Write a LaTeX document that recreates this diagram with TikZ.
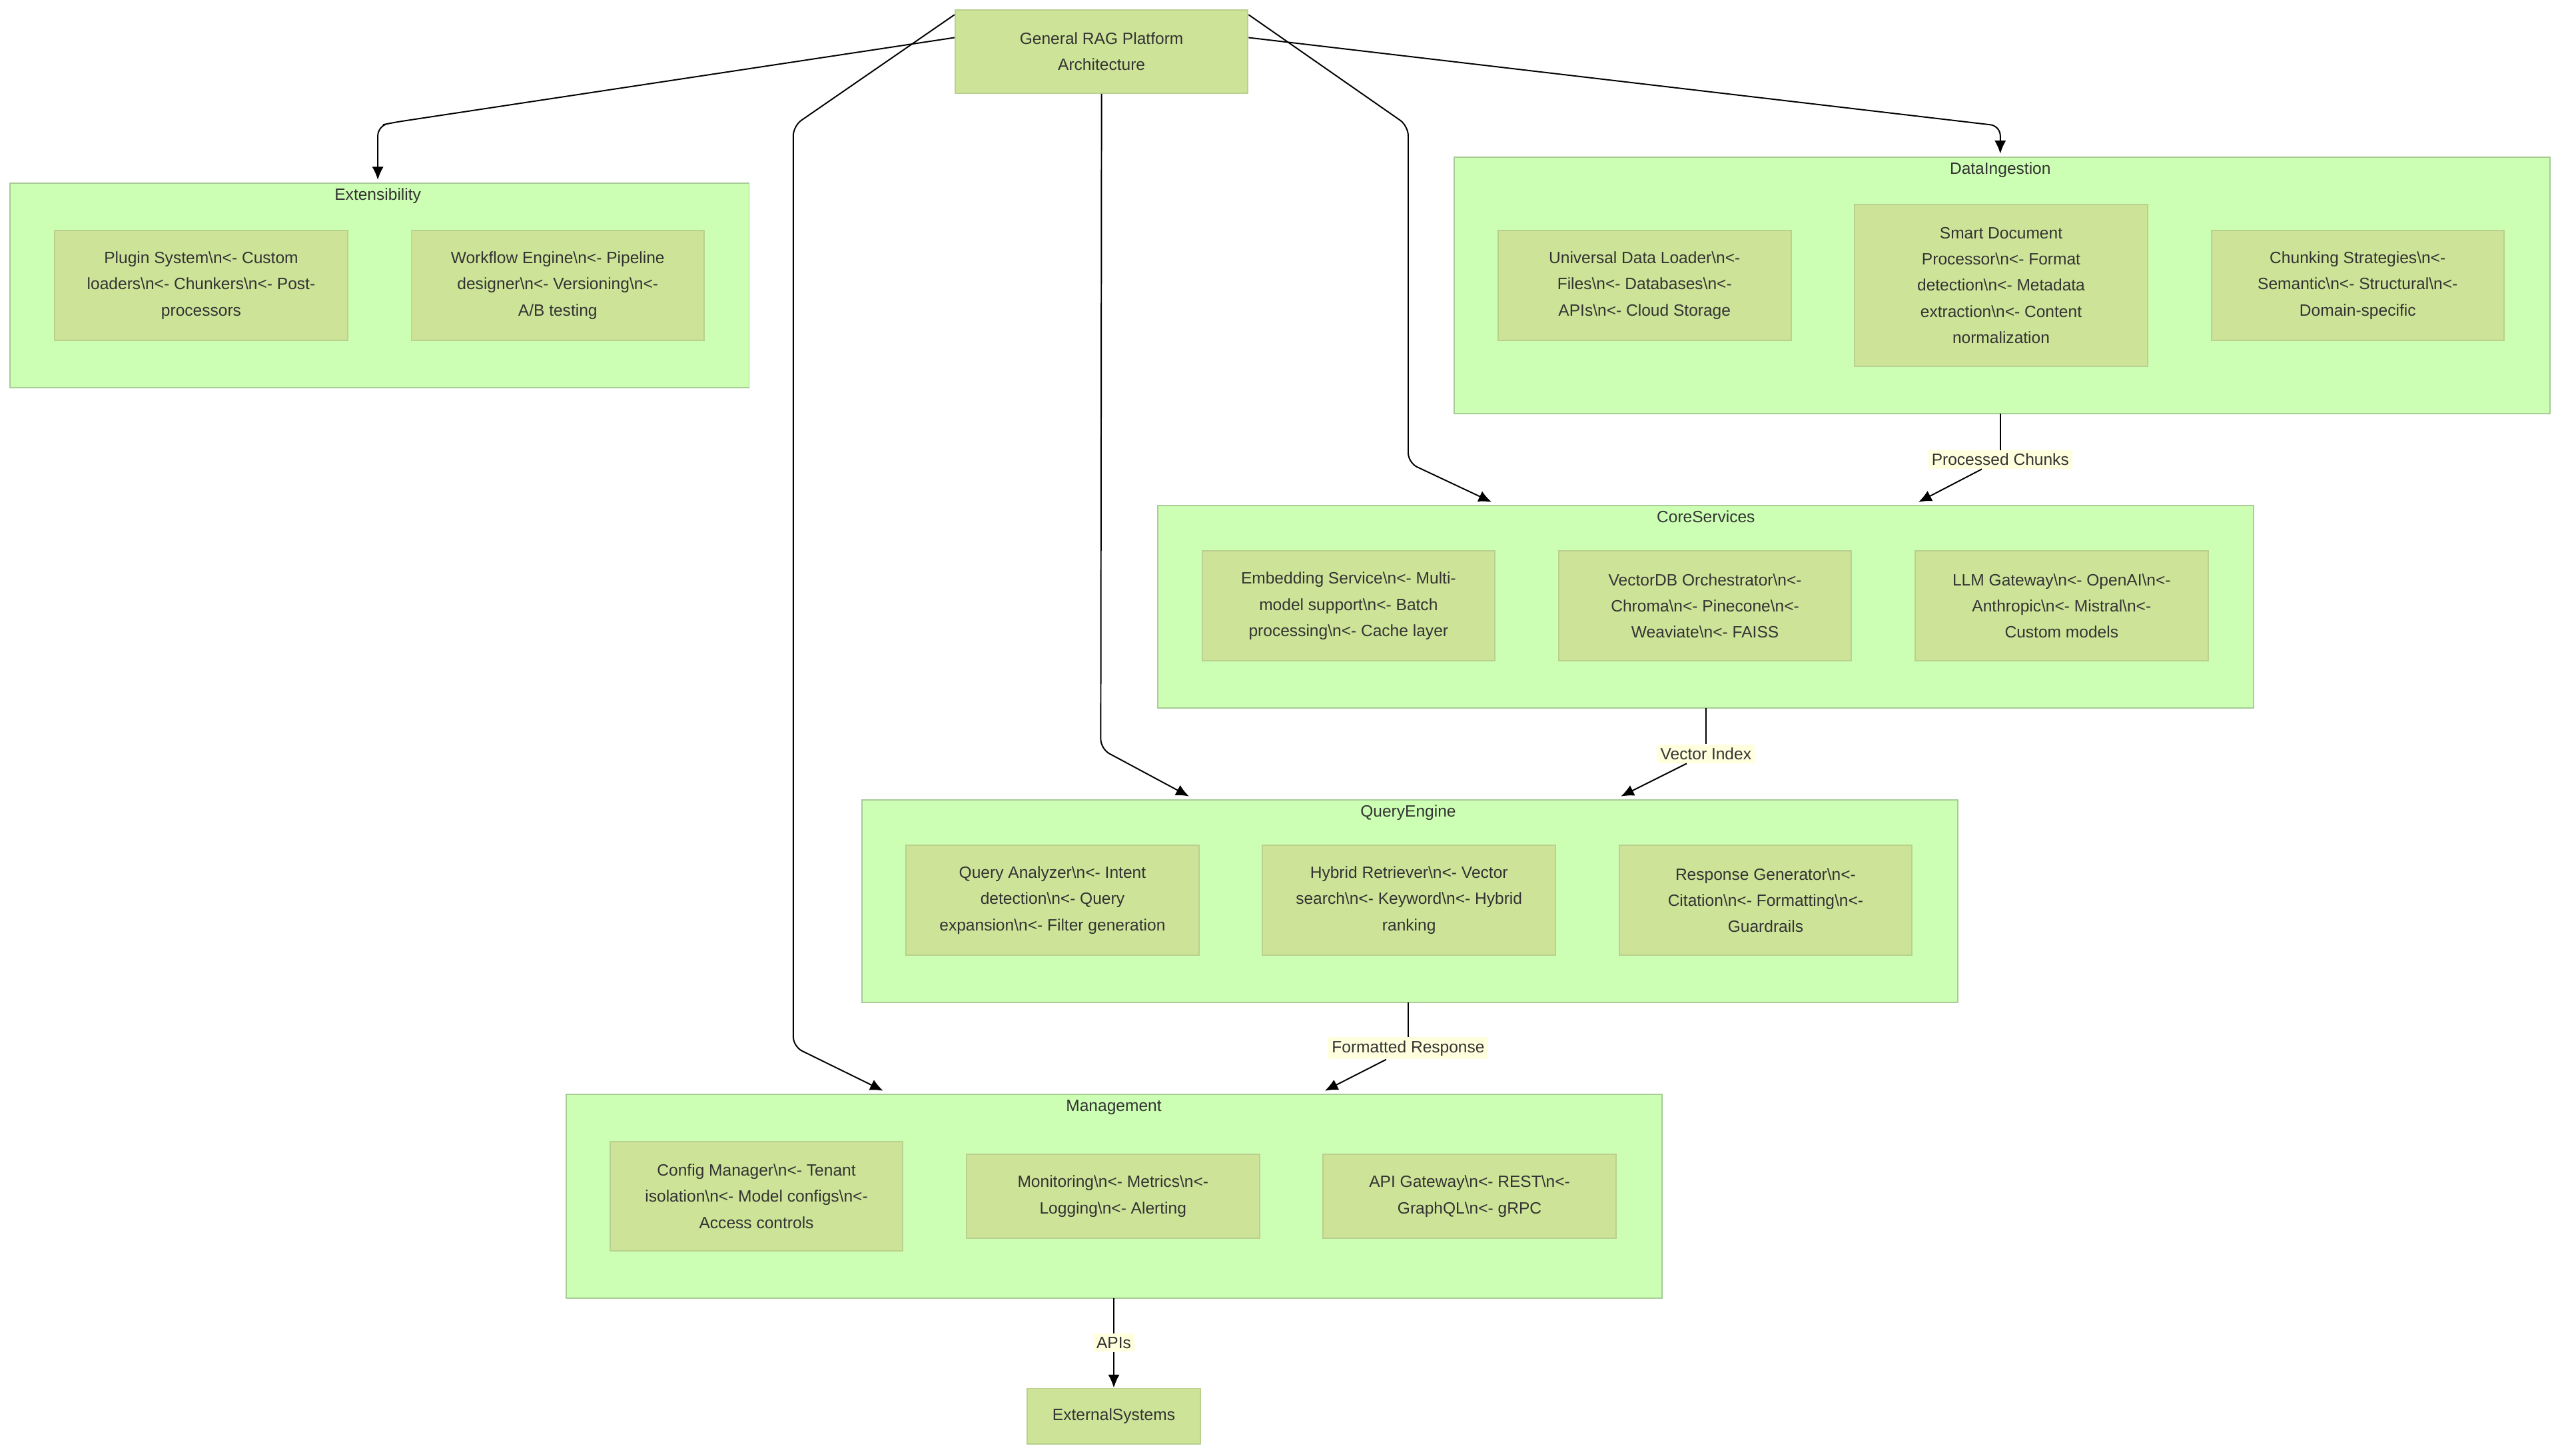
\documentclass[tikz,border=0pt]{standalone}
\usepackage{fontspec}
\setmainfont{Liberation Sans}
\usetikzlibrary{arrows.meta}
\definecolor{clfill}{HTML}{CCFFB3}
\definecolor{clline}{HTML}{A8CC96}
\definecolor{ndfill}{HTML}{CDE498}
\definecolor{ndline}{HTML}{B9D08E}
\definecolor{txt}{HTML}{333333}
\definecolor{lblbg}{HTML}{FFFFDE}
\newcommand\bsn{\textbackslash n}
\newcommand\ar{\textless-}
\tikzset{
  cl/.style={draw=clline,fill=clfill,line width=0.8pt},
  cltitle/.style={font=\fontsize{10}{12}\selectfont,text=txt},
  nd/.style={draw=ndline,fill=ndfill,line width=0.8pt,align=center,text=txt,
     font=\fontsize{10}{16}\selectfont,minimum width=179pt,inner sep=2pt},
  ed/.style={line width=0.8pt,-{Latex[length=8pt,width=7pt]},rounded corners=6pt},
  ln/.style={line width=0.8pt},
  lb/.style={fill=lblbg,text=txt,font=\fontsize{10}{12}\selectfont,inner sep=2pt}
}
\begin{document}
\begin{tikzpicture}[x=1pt,y=-1pt]
\useasboundingbox (0,0) rectangle (1564,890);
% clusters
\draw[cl] (6,112) rectangle (458,237);
\node[cltitle] (tExt) at (231,120) {Extensibility};
\draw[cl] (889,96) rectangle (1559,253);
\node[cltitle] (tDI) at (1223,104) {DataIngestion};
\coordinate (DIb) at (1223,253);
\coordinate (DIt) at (1223,94);
\draw[cl] (708,309) rectangle (1378,433);
\node[cltitle] (tCS) at (1043,316) {CoreServices};
\coordinate (CSb) at (1043,433);
\draw[cl] (527,489) rectangle (1197,613);
\node[cltitle] (tQE) at (861,497) {QueryEngine};
\coordinate (QEb) at (861,613);
\draw[cl] (346,669) rectangle (1016,794);
\node[cltitle] (tMG) at (681,677) {Management};
\coordinate (MGb) at (681,794);
\coordinate (EXt) at (231,110);
\coordinate (CSt1) at (912,307);
\coordinate (CSt2) at (1173,307);
\coordinate (QEt1) at (727,487);
\coordinate (QEt2) at (991,487);
\coordinate (MGt1) at (540,667);
\coordinate (MGt2) at (810,667);
% top
\node[nd,minimum width=179pt,minimum height=51pt] (top) at (673.5,31.5) {General RAG Platform\\Architecture};
% nodes
\node[nd,minimum height=67pt] (plug) at (123,174.5) {Plugin System\bsn\ar{} Custom\\loaders\bsn\ar{} Chunkers\bsn\ar{} Post-\\processors};
\node[nd,minimum height=67pt] (wf) at (341,174.5) {Workflow Engine\bsn\ar{} Pipeline\\designer\bsn\ar{} Versioning\bsn\ar{}\\A/B testing};
\node[nd,minimum height=67pt] (udl) at (1005.5,174.5) {Universal Data Loader\bsn\ar{}\\Files\bsn\ar{} Databases\bsn\ar{}\\APIs\bsn\ar{} Cloud Storage};
\node[nd,minimum height=99pt] (sdp) at (1223.5,174.5) {Smart Document\\Processor\bsn\ar{} Format\\detection\bsn\ar{} Metadata\\extraction\bsn\ar{} Content\\normalization};
\node[nd,minimum height=67pt] (chs) at (1441.5,174.5) {Chunking Strategies\bsn\ar{}\\Semantic\bsn\ar{} Structural\bsn\ar{}\\Domain-specific};
\node[nd,minimum height=67pt] (emb) at (824.5,370.5) {Embedding Service\bsn\ar{} Multi-\\model support\bsn\ar{} Batch\\processing\bsn\ar{} Cache layer};
\node[nd,minimum height=67pt] (vdb) at (1042.5,370.5) {VectorDB Orchestrator\bsn\ar{}\\Chroma\bsn\ar{} Pinecone\bsn\ar{}\\Weaviate\bsn\ar{} FAISS};
\node[nd,minimum height=67pt] (llm) at (1260.5,370.5) {LLM Gateway\bsn\ar{} OpenAI\bsn\ar{}\\Anthropic\bsn\ar{} Mistral\bsn\ar{}\\Custom models};
\node[nd,minimum height=67pt] (qa) at (643.5,550.5) {Query Analyzer\bsn\ar{} Intent\\detection\bsn\ar{} Query\\expansion\bsn\ar{} Filter generation};
\node[nd,minimum height=67pt] (hr) at (861.5,550.5) {Hybrid Retriever\bsn\ar{} Vector\\search\bsn\ar{} Keyword\bsn\ar{} Hybrid\\ranking};
\node[nd,minimum height=67pt] (rg) at (1079.5,550.5) {Response Generator\bsn\ar{}\\Citation\bsn\ar{} Formatting\bsn\ar{}\\Guardrails};
\node[nd,minimum height=67pt] (cm) at (462.5,731.5) {Config Manager\bsn\ar{} Tenant\\isolation\bsn\ar{} Model configs\bsn\ar{}\\Access controls};
\node[nd,minimum height=51pt] (mon) at (680.5,731.5) {Monitoring\bsn\ar{} Metrics\bsn\ar{}\\Logging\bsn\ar{} Alerting};
\node[nd,minimum height=51pt] (api) at (898.5,731.5) {API Gateway\bsn\ar{} REST\bsn\ar{}\\GraphQL\bsn\ar{} gRPC};
\node[nd,minimum width=106pt,minimum height=34pt] (ext) at (681,866) {ExternalSystems};
% edges from top
\draw[ed] ([yshift=8.5pt]top.west) -- (240,75) -- (231,77) -- (EXt);
\draw[ed] ([yshift=22.5pt]top.west) -- (485,77) -- (485,640) -- (MGt1);
\draw[ed] (top.south) -- (673,458) -- (QEt1);
\draw[ed] ([yshift=22.5pt]top.east) -- (861,77) -- (861,283) -- (CSt1);
\draw[ed] ([yshift=8.5pt]top.east) -- (1223,77) -- (DIt);
% labelled edges
\node[lb] (l1) at (1223,281) {Processed Chunks};
\draw[ln] (DIb) -- (l1);
\draw[ed] (l1) -- (CSt2);
\node[lb] (l2) at (1043,461) {Vector Index};
\draw[ln] (CSb) -- (l2);
\draw[ed] (l2) -- (QEt2);
\node[lb] (l3) at (861,641) {Formatted Response};
\draw[ln] (QEb) -- (l3);
\draw[ed] (l3) -- (MGt2);
\node[lb] (l4) at (681,821) {APIs};
\draw[ln] (MGb) -- (l4);
\draw[ed] (l4) -- (ext);
\end{tikzpicture}
\end{document}
